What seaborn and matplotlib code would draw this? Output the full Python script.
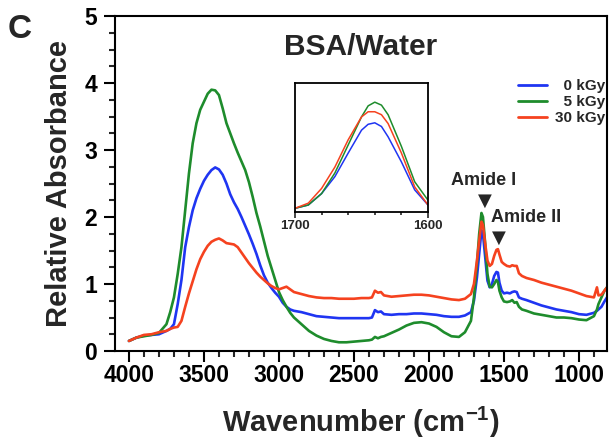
import numpy as np
import pandas as pd
import matplotlib
matplotlib.use('Agg')
import matplotlib.pyplot as plt
import seaborn as sns
from matplotlib.ticker import MultipleLocator, FixedLocator
from matplotlib.lines import Line2D

# ---------------- data ----------------
wavenumber = [
    4000, 3950, 3900, 3850, 3800, 3750, 3725, 3700, 3675, 3650,
    3625, 3600, 3575, 3550, 3525, 3500, 3475, 3450, 3425, 3400,
    3375, 3350, 3325, 3300, 3275, 3250, 3225, 3200, 3175, 3150,
    3125, 3100, 3075, 3050, 3025, 3000, 2975, 2950, 2925, 2900,
    2850, 2800, 2750, 2700, 2650, 2600, 2550, 2500, 2450, 2400,
    2380, 2360, 2340, 2320, 2300, 2250, 2200, 2150, 2100, 2050,
    2000, 1950, 1900, 1850, 1800, 1760, 1720, 1700, 1680, 1665,
    1650, 1640, 1625, 1610, 1595, 1580, 1565, 1550, 1540, 1530,
    1515, 1500, 1480, 1460, 1445, 1430, 1415, 1400, 1380, 1350,
    1300, 1250, 1200, 1150, 1100, 1050, 1000, 950, 900, 880,
    870, 850, 830, 813]

abs_0kgy = [
    0.15, 0.20, 0.23, 0.24, 0.25, 0.30, 0.33, 0.40, 0.70, 1.06,
    1.55, 1.85, 2.10, 2.28, 2.42, 2.54, 2.63, 2.70, 2.74, 2.71,
    2.63, 2.50, 2.34, 2.22, 2.12, 2.00, 1.87, 1.74, 1.60, 1.45,
    1.28, 1.13, 1.02, 0.94, 0.87, 0.81, 0.72, 0.66, 0.62, 0.60,
    0.58, 0.55, 0.52, 0.51, 0.50, 0.49, 0.49, 0.49, 0.49, 0.49,
    0.50, 0.61, 0.58, 0.59, 0.55, 0.54, 0.55, 0.55, 0.56, 0.56,
    0.55, 0.54, 0.52, 0.51, 0.51, 0.53, 0.58, 0.75, 1.10, 1.45,
    1.80, 1.75, 1.40, 1.05, 0.95, 1.00, 1.12, 1.18, 1.17, 1.02,
    0.90, 0.86, 0.87, 0.86, 0.88, 0.89, 0.88, 0.80, 0.78, 0.76,
    0.72, 0.68, 0.65, 0.62, 0.60, 0.58, 0.55, 0.54, 0.57, 0.60,
    0.62, 0.66, 0.74, 0.80]

abs_5kgy = [
    0.15, 0.20, 0.22, 0.24, 0.27, 0.40, 0.58, 0.80, 1.15, 1.55,
    2.10, 2.65, 3.10, 3.40, 3.60, 3.72, 3.84, 3.90, 3.89, 3.82,
    3.62, 3.40, 3.25, 3.10, 2.96, 2.83, 2.70, 2.52, 2.30, 2.06,
    1.86, 1.64, 1.42, 1.24, 1.06, 0.88, 0.76, 0.66, 0.57, 0.50,
    0.40, 0.30, 0.23, 0.18, 0.15, 0.13, 0.13, 0.14, 0.15, 0.16,
    0.17, 0.21, 0.19, 0.21, 0.22, 0.27, 0.32, 0.38, 0.42, 0.43,
    0.41, 0.36, 0.28, 0.22, 0.21, 0.28, 0.45, 0.80, 1.30, 1.75,
    2.06, 2.00, 1.60, 1.15, 0.96, 0.95, 1.00, 1.06, 1.03, 0.90,
    0.80, 0.74, 0.73, 0.74, 0.76, 0.72, 0.73, 0.66, 0.62, 0.60,
    0.56, 0.54, 0.52, 0.50, 0.50, 0.49, 0.47, 0.46, 0.52, 0.62,
    0.70, 0.80, 0.90, 0.95]

abs_30kgy = [
    0.15, 0.20, 0.24, 0.25, 0.28, 0.30, 0.33, 0.35, 0.36, 0.45,
    0.66, 0.86, 1.04, 1.22, 1.37, 1.48, 1.57, 1.63, 1.66, 1.68,
    1.65, 1.61, 1.60, 1.59, 1.55, 1.47, 1.39, 1.31, 1.24, 1.17,
    1.11, 1.06, 1.01, 0.97, 0.94, 0.92, 0.94, 0.96, 0.92, 0.88,
    0.85, 0.82, 0.80, 0.79, 0.79, 0.78, 0.78, 0.78, 0.79, 0.79,
    0.80, 0.90, 0.87, 0.88, 0.83, 0.81, 0.82, 0.83, 0.84, 0.84,
    0.83, 0.81, 0.79, 0.77, 0.76, 0.78, 0.85, 1.00, 1.35, 1.65,
    1.93, 1.88, 1.60, 1.35, 1.27, 1.30, 1.42, 1.51, 1.52, 1.44,
    1.33, 1.30, 1.27, 1.26, 1.28, 1.27, 1.27, 1.16, 1.12, 1.09,
    1.06, 1.02, 0.99, 0.96, 0.93, 0.90, 0.86, 0.82, 0.80, 0.95,
    0.83, 0.84, 0.90, 0.95]

inset_wavenumber = [1700, 1690, 1680, 1670, 1660, 1650, 1645, 1640, 1635, 1630, 1620, 1610, 1600]
inset_0kgy = [0.55, 0.595, 0.75, 0.98, 1.30, 1.61, 1.69, 1.71, 1.66, 1.52, 1.18, 0.80, 0.595]
inset_5kgy = [0.55, 0.595, 0.75, 1.03, 1.41, 1.79, 1.94, 1.99, 1.95, 1.82, 1.39, 0.91, 0.66]
inset_30kgy = [0.55, 0.62, 0.82, 1.11, 1.48, 1.79, 1.86, 1.86, 1.82, 1.70, 1.30, 0.84, 0.595]

doses = ['0 kGy', '5 kGy', '30 kGy']
legend_labels = ['\u20070 kGy', '\u20075 kGy', '30 kGy']
colors = ['#1f35f2', '#1e8c2c', '#f5421f']

x_ticks = [4000, 3500, 3000, 2500, 2000, 1500, 1000]
y_ticks = [0, 1, 2, 3, 4, 5]
inset_ticks = [1700, 1600]

annot_labels = ['Amide I', 'Amide II']
annot_text_wn = [1633, 1353]
annot_text_y = [2.54, 1.99]
annot_arrow_wn = [1630, 1533]
annot_arrow_y = [2.24, 1.69]

assert len(wavenumber) == len(abs_0kgy) == len(abs_5kgy) == len(abs_30kgy)

# ---------------- style ----------------
sns.set_style('ticks')
plt.rcParams['font.family'] = ['Liberation Sans', 'DejaVu Sans']
plt.rcParams['font.weight'] = 'bold'
plt.rcParams['mathtext.fontset'] = 'custom'
plt.rcParams['mathtext.bf'] = 'Liberation Sans:bold'
plt.rcParams['mathtext.rm'] = 'Liberation Sans:bold'
plt.rcParams['mathtext.default'] = 'bf'

palette = dict(zip(doses, colors))

df = pd.DataFrame({
    'wavenumber': wavenumber * 3,
    'absorbance': abs_0kgy + abs_5kgy + abs_30kgy,
    'dose': np.repeat(doses, len(wavenumber)),
})
df_in = pd.DataFrame({
    'wavenumber': inset_wavenumber * 3,
    'absorbance': inset_0kgy + inset_5kgy + inset_30kgy,
    'dose': np.repeat(doses, len(inset_wavenumber)),
})

fig = plt.figure(figsize=(6.09, 4.42), dpi=100)
ax = fig.add_axes([115 / 609, 91 / 442, 492 / 609, 335 / 442])

sns.lineplot(data=df, x='wavenumber', y='absorbance', hue='dose', hue_order=doses,
             palette=palette, linewidth=1.9, ax=ax, legend=False,
             estimator=None, sort=False)

ax.set_xlim(4093, 813)
ax.set_ylim(0, 5)
ax.xaxis.set_major_locator(FixedLocator(x_ticks))
ax.xaxis.set_minor_locator(MultipleLocator(100))
ax.yaxis.set_major_locator(FixedLocator(y_ticks))
ax.yaxis.set_minor_locator(MultipleLocator(0.25))
ax.tick_params(which='major', direction='out', length=8, width=1.5, labelsize=16.5,
               colors='black', top=False, right=False)
ax.tick_params(axis='x', which='major', pad=1)
ax.tick_params(axis='y', which='major', pad=5)
ax.tick_params(which='minor', direction='out', length=4.5, width=1.5, top=False, right=False)
for lab in ax.get_xticklabels() + ax.get_yticklabels():
    lab.set_fontweight('bold')
for s in ax.spines.values():
    s.set_visible(True)
    s.set_linewidth(1.5)
    s.set_color('black')

ax.set_xlabel(r'Wavenumber (cm$^{\mathbf{-1}}$)', fontsize=21, fontweight='bold', labelpad=13)
ax.set_ylabel('Relative Absorbance', fontsize=21, fontweight='bold', labelpad=8)

ax.text(0.5, 0.907, 'BSA/Water', transform=ax.transAxes, ha='center', va='center',
        fontsize=21.5, fontweight='bold')
fig.text(8 / 609, 1 - 29 / 442, 'C', fontsize=24, fontweight='bold', ha='left', va='center')

for lab, tx, ty, axx, ayy in zip(annot_labels, annot_text_wn, annot_text_y,
                                  annot_arrow_wn, annot_arrow_y):
    ax.text(tx, ty, lab, ha='center', va='center', fontsize=13, fontweight='bold')
    ax.text(axx, ayy, '\u25BC', ha='center', va='center', fontsize=13,
            family=['DejaVu Sans'])

handles = [Line2D([], [], color=c, lw=2) for c in colors]
leg = ax.legend(handles, legend_labels, loc='upper right',
                bbox_to_anchor=(0.996, 0.811), frameon=False, fontsize=11,
                handlelength=1.9, handletextpad=0.5, labelspacing=0.12,
                borderpad=0, borderaxespad=0)
for t in leg.get_texts():
    t.set_fontweight('bold')

# ---------------- inset ----------------
axin = fig.add_axes([295 / 609, 230 / 442, 133 / 609, 129 / 442])
sns.lineplot(data=df_in, x='wavenumber', y='absorbance', hue='dose', hue_order=doses,
             palette=palette, linewidth=1.1, ax=axin, legend=False,
             estimator=None, sort=False)
axin.set_xlim(1700, 1600)
axin.set_ylim(0.5, 2.25)
axin.xaxis.set_major_locator(FixedLocator(inset_ticks))
axin.xaxis.set_minor_locator(MultipleLocator(20))
axin.set_yticks([])
axin.tick_params(which='major', direction='out', length=4, width=1.2, labelsize=9.5, pad=2)
axin.tick_params(which='minor', direction='out', length=2.5, width=1.2)
for lab in axin.get_xticklabels():
    lab.set_fontweight('bold')
axin.set_xlabel('')
axin.set_ylabel('')
for s in axin.spines.values():
    s.set_visible(True)
    s.set_linewidth(1.3)
    s.set_color('black')

fig.savefig('out.png', dpi=100)
